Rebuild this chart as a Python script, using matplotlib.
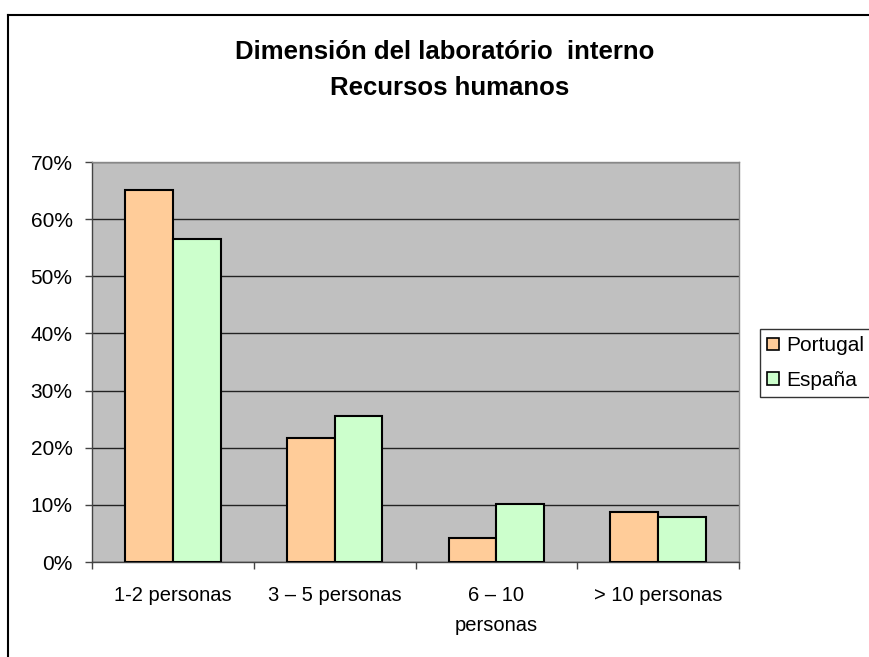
import matplotlib
matplotlib.use('Agg')
import matplotlib.pyplot as plt
import numpy as np
from matplotlib.lines import Line2D
from matplotlib.ticker import FuncFormatter

plt.rcParams['font.family'] = ['Liberation Sans', 'DejaVu Sans']

categories = ['1-2 personas', '3 – 5 personas', '6 – 10\npersonas', '> 10 personas']
portugal = [65.1, 21.7, 4.2, 8.7]
espana = [56.5, 25.6, 10.1, 7.8]
series_names = ['Portugal', 'España']

W, H = 869, 657
fig = plt.figure(figsize=(W/100, H/100), dpi=100)
ax = fig.add_axes([92/W, 1-562/H, (739-92)/W, (562-162)/H])
ax.set_facecolor('#C0C0C0')

x = np.arange(len(categories))
bw = 0.295
ax.bar(x-bw/2, portugal, bw, color='#FFCC99', edgecolor='black', linewidth=1.5, label=series_names[0], zorder=3)
ax.bar(x+bw/2, espana, bw, color='#CCFFCC', edgecolor='black', linewidth=1.5, label=series_names[1], zorder=3)

ax.set_xlim(-0.5, len(categories)-0.5)
ax.set_ylim(0, 70)
ax.set_yticks(np.arange(0, 71, 10))
ax.yaxis.set_major_formatter(FuncFormatter(lambda v, p: f'{v:.0f}%'))
ax.yaxis.grid(True, color='#222222', linewidth=1.0, zorder=1)
ax.set_axisbelow(True)

ax.set_xticks(np.arange(-0.5, len(categories), 1.0))
ax.set_xticklabels([])
ax.set_xticks(x, minor=True)
ax.set_xticklabels(categories, minor=True, fontsize=14.5, linespacing=1.75)
ax.tick_params(axis='x', which='minor', length=0, pad=17)
ax.tick_params(axis='x', which='major', length=5, width=1, color='#444444', direction='out')
ax.tick_params(axis='y', length=5, width=1, color='#444444', direction='out', labelsize=15, pad=9)

for s in ['top', 'right']:
    ax.spines[s].set_color('#888888')
    ax.spines[s].set_linewidth(1.0)
for s in ['left', 'bottom']:
    ax.spines[s].set_color('#444444')
    ax.spines[s].set_linewidth(1.0)

fig.text(445/W, 1-52/H, 'Dimensión del laboratório  interno', ha='center', va='center',
         fontsize=18.5, fontweight='bold')
fig.text(450/W, 1-88/H, 'Recursos humanos', ha='center', va='center',
         fontsize=18.5, fontweight='bold')

leg = fig.legend(loc='center left', bbox_to_anchor=(760/W, 1-363/H), fontsize=15,
                 frameon=True, fancybox=False, edgecolor='black', handlelength=0.55,
                 handleheight=0.55, handletextpad=0.35, borderpad=0.35, labelspacing=0.75,
                 borderaxespad=0)
leg.get_frame().set_linewidth(1.0)
for h in leg.legend_handles:
    h.set_linewidth(1.2)

fig.add_artist(Line2D([8/W, 8/W], [0, 1-15/H], transform=fig.transFigure, color='black', linewidth=1.5))
fig.add_artist(Line2D([8/W, 1], [1-15/H, 1-15/H], transform=fig.transFigure, color='black', linewidth=1.5))

fig.savefig('out.png', dpi=100)
